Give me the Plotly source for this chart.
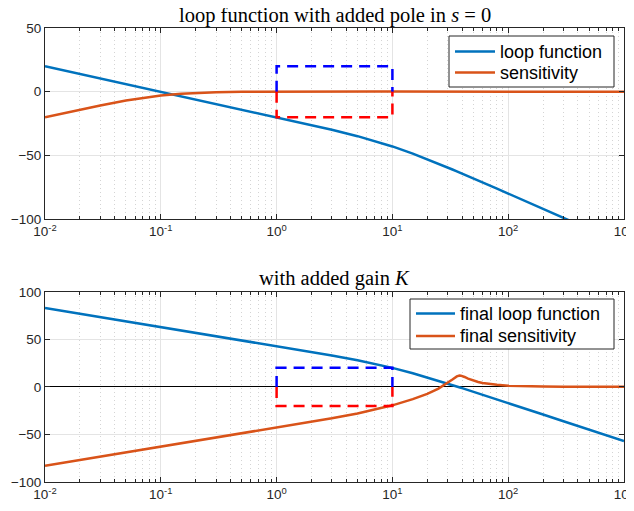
import plotly.graph_objects as go
from plotly.subplots import make_subplots

# frequency grid (rad/s)
freq = [0.01, 0.02, 0.03, 0.05, 0.07, 0.1, 0.15, 0.2, 0.3, 0.5, 0.7, 1, 1.5, 2, 3, 5, 7,
        10, 15, 20, 25, 30, 33, 36, 37, 38, 39, 40, 42, 45, 50, 55, 60, 70, 80, 100,
        150, 200, 300, 500, 1000]

# top panel: loop function with added pole (dB)
loop_db = [20.0, 13.98, 10.46, 6.02, 3.10, 0.0, -3.52, -6.02, -9.55, -13.99, -16.92,
           -20.04, -23.62, -26.19, -29.92, -34.95, -38.63, -43.01, -48.64, -53.01,
           -56.56, -59.54, -61.12, -62.58, -63.03, -63.49, -63.92, -64.34, -65.16,
           -66.33, -68.13, -69.76, -71.24, -73.89, -76.19, -80.04, -87.06, -92.05,
           -99.09, -107.96, -120.0]
# top panel: sensitivity (dB)
sens_db = [-20.04, -14.15, -10.82, -6.97, -4.80, -2.97, -1.54, -0.90, -0.38, -0.09, -0.002,
           0.043, 0.067, 0.074, 0.076, 0.069, 0.058, 0.043, 0.027, 0.017, 0.012, 0.009,
           0.007, 0.006, 0.005, 0.005, 0.005, 0.005, 0.004, 0.004, 0.003, 0.003, 0.002,
           0.002, 0.001, 0.001, 0.0, 0.0, 0.0, 0.0, 0.0]

# bottom panel: final loop function (dB)
final_loop_db = [83.01, 76.99, 73.47, 69.03, 66.11, 63.01, 59.49, 56.99, 53.46, 49.02,
                 46.09, 42.97, 39.39, 36.82, 33.09, 28.06, 24.38, 20.0, 14.37, 10.0,
                 6.45, 3.47, 1.89, 0.43, -0.02, -0.48, -0.91, -1.33, -2.15, -3.32,
                 -5.12, -6.75, -8.23, -10.88, -13.18, -17.03, -24.05, -29.04, -36.08,
                 -44.95, -56.99]
# bottom panel: final sensitivity (dB)
final_sens_db = [-83.01, -76.99, -73.47, -69.03, -66.11, -63.01, -59.49, -56.98, -53.45,
                 -49.0, -46.06, -42.96, -39.33, -36.80, -33.04, -27.91, -24.08, -19.39,
                 -12.93, -7.28, -1.80, 4.05, 7.80, 11.00, 11.61, 11.86, 11.78, 11.46,
                 10.42, 8.74, 6.58, 5.14, 4.14, 2.87, 2.13, 1.31, 0.56, 0.31, 0.14,
                 0.05, 0.01]

# dashed spec boxes
box_x = [1, 1, 10, 10]
box_upper_y = [0, 20, 20, 0]
box_lower_y = [0, -20, -20, 0]

x_tickvals = [0.01, 0.1, 1, 10, 100, 1000]
x_ticktext = ["10<sup>-2</sup>", "10<sup>-1</sup>", "10<sup>0</sup>",
              "10<sup>1</sup>", "10<sup>2</sup>", "10<sup>3</sup>"]
top_yticks = [-100, -50, 0, 50]
bottom_yticks = [-100, -50, 0, 50, 100]

titles = ["loop function with added pole in <i>s</i> = 0", "with added gain <i>K</i>"]
top_names = ["loop function", "sensitivity"]
bottom_names = ["final loop function", "final sensitivity"]

BLUE = "#0072BD"
ORANGE = "#D95319"
AXC = "#262626"
DASH = "11px,7px"

fig = make_subplots(rows=2, cols=1, vertical_spacing=0.16)

fig.add_trace(go.Scatter(x=freq, y=loop_db, mode="lines", name=top_names[0],
                         line=dict(color=BLUE, width=2.5), showlegend=False), row=1, col=1)
fig.add_trace(go.Scatter(x=freq, y=sens_db, mode="lines", name=top_names[1],
                         line=dict(color=ORANGE, width=2.5), showlegend=False), row=1, col=1)
fig.add_trace(go.Scatter(x=box_x, y=box_upper_y, mode="lines", showlegend=False,
                         line=dict(color="#0000FF", width=2.5, dash=DASH)), row=1, col=1)
fig.add_trace(go.Scatter(x=box_x, y=box_lower_y, mode="lines", showlegend=False,
                         line=dict(color="#FF0000", width=2.5, dash=DASH)), row=1, col=1)

fig.add_trace(go.Scatter(x=freq, y=final_loop_db, mode="lines", name=bottom_names[0],
                         line=dict(color=BLUE, width=2.5), showlegend=False), row=2, col=1)
fig.add_trace(go.Scatter(x=freq, y=final_sens_db, mode="lines", name=bottom_names[1],
                         line=dict(color=ORANGE, width=2.5), showlegend=False), row=2, col=1)
fig.add_trace(go.Scatter(x=box_x, y=box_upper_y, mode="lines", showlegend=False,
                         line=dict(color="#0000FF", width=2.5, dash=DASH)), row=2, col=1)
fig.add_trace(go.Scatter(x=box_x, y=box_lower_y, mode="lines", showlegend=False,
                         line=dict(color="#FF0000", width=2.5, dash=DASH)), row=2, col=1)

tickfont = dict(family="Liberation Sans, Arial, sans-serif", size=13.5, color=AXC)

xcommon = dict(type="log", range=[-2, 3], tickvals=x_tickvals, ticktext=x_ticktext,
               showline=True, linecolor=AXC, linewidth=1, mirror="ticks",
               ticks="inside", ticklen=5, tickcolor=AXC, tickfont=tickfont,
               showgrid=True, gridcolor="#e4e4e4", gridwidth=1, zeroline=False,
               automargin=False, ticklabeloverflow="allow",
               minor=dict(dtick="D1", ticks="inside", ticklen=3, tickcolor=AXC,
                          showgrid=True, gridcolor="#d4d4d4", griddash="1px,3px",
                          gridwidth=1))
fig.update_xaxes(**xcommon, domain=[0, 1])
fig.update_yaxes(showline=True, linecolor=AXC, linewidth=1, mirror="ticks",
                 ticks="inside", ticklen=5, tickcolor=AXC, tickfont=tickfont,
                 showgrid=True, gridcolor="#e4e4e4", gridwidth=1, automargin=False)
fig.update_yaxes(range=[-100, 50], tickvals=top_yticks, zeroline=False,
                 domain=[0.5793, 1.0], row=1, col=1)
fig.update_yaxes(range=[-100, 100], tickvals=bottom_yticks, zeroline=True,
                 zerolinecolor="#000000", zerolinewidth=1.2,
                 domain=[0.0, 0.419], row=2, col=1)

# the page body adds an 8px offset; positions below are given in window pixels
PLOT_L, PLOT_W, PLOT_B, PLOT_H = 45, 579, 482, 454


def px(X):
    return (X - PLOT_L) / PLOT_W


def py(Y):
    return (PLOT_B - Y) / PLOT_H


legfont = dict(family="Liberation Sans, Arial, sans-serif", size=18, color="#000000")
titlefont = dict(family="Liberation Serif, Times New Roman, serif", size=20.5, color="#000000")

shapes = []
annotations = [
    dict(text=titles[0], x=0.5, xref="paper", y=py(15.5), yref="paper",
         yanchor="middle", showarrow=False, font=titlefont, borderpad=0),
    dict(text=titles[1], x=0.5, xref="paper", y=py(278), yref="paper",
         yanchor="middle", showarrow=False, font=titlefont),
]

# legend boxes (window pixels): box, sample line start/end, text start, row centres
legend_specs = [
    (top_names, (449, 614, 36, 87), (455, 495), 499, (51.5, 72.5)),
    (bottom_names, (410, 614, 299, 349), (416, 455), 459, (313.5, 336)),
]
for names, (x0, x1, y0, y1), (lx0, lx1), tx, rows in legend_specs:
    shapes.append(dict(type="rect", xref="paper", yref="paper",
                       x0=px(x0), x1=px(x1), y0=py(y1), y1=py(y0),
                       line=dict(color=AXC, width=1), fillcolor="white", layer="above"))
    for name, color, ry in zip(names, [BLUE, ORANGE], rows):
        shapes.append(dict(type="line", xref="paper", yref="paper",
                           x0=px(lx0), x1=px(lx1), y0=py(ry), y1=py(ry),
                           line=dict(color=color, width=2.5), layer="above"))
        annotations.append(dict(text=name, x=px(tx), y=py(ry), xref="paper", yref="paper",
                                xanchor="left", yanchor="middle", showarrow=False,
                                font=legfont, borderpad=0))

fig.update_layout(
    width=626, height=503,
    margin=dict(l=37, r=10, t=20, b=29, autoexpand=False),
    paper_bgcolor="white", plot_bgcolor="white",
    showlegend=False,
    shapes=shapes,
    annotations=annotations,
)

fig.write_html("out.html")
